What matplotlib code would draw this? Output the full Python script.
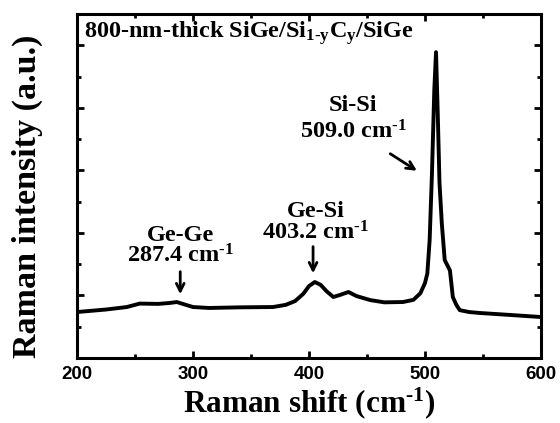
import matplotlib
matplotlib.use("Agg")
import matplotlib.pyplot as plt
from matplotlib.ticker import MultipleLocator

# Raman spectrum
shift = [200, 225, 243, 254, 270, 280, 286, 292, 300, 314, 340, 369, 380, 388,
         395, 400, 405, 410, 415, 421, 427, 434, 441, 453, 465, 481, 490, 496,
         500, 502, 504, 506, 508, 509.5, 511, 512.5, 514.5, 517, 519.5, 521.5,
         524, 527, 530, 538, 547, 576, 600]
intensity = [1.47, 1.55, 1.63, 1.74, 1.73, 1.76, 1.79, 1.72, 1.63, 1.60, 1.62,
             1.63, 1.70, 1.82, 2.05, 2.30, 2.43, 2.34, 2.14, 1.95, 2.02, 2.11,
             1.98, 1.85, 1.78, 1.79, 1.86, 2.07, 2.40, 2.70, 3.77, 5.90, 8.56,
             9.78, 7.80, 5.60, 4.30, 3.13, 2.95, 2.80, 1.95, 1.70, 1.53, 1.47,
             1.44, 1.37, 1.31]

# peak annotations
peak_names = ["Ge-Ge", "Ge-Si", "Si-Si"]
peak_values = ["287.4", "403.2", "509.0"]
label_x = [289, 406, 438]
name_y = [3.93, 4.70, 8.08]
value_y = [3.26, 3.99, 7.22]
arrow_tail = [(289, 2.85), (403.5, 3.65), (468, 6.58)]
arrow_head = [(289, 1.95), (403.5, 2.62), (495, 5.94)]

plt.rcParams["mathtext.fontset"] = "custom"
plt.rcParams["mathtext.rm"] = "Liberation Serif:bold"
plt.rcParams["mathtext.it"] = "Liberation Serif:bold"
plt.rcParams["mathtext.bf"] = "Liberation Serif:bold"

serif = dict(family="Liberation Serif", weight="bold")

fig = plt.figure(figsize=(5.6, 4.23), dpi=100)
ax = fig.add_axes([77 / 560, 1 - 358 / 423, 464 / 560, 344 / 423])

ax.plot(shift, intensity, color="black", lw=2.8, solid_joinstyle="round")

ax.set_xlim(200, 600)
ax.set_ylim(0, 11)
ax.xaxis.set_major_locator(MultipleLocator(100))
ax.xaxis.set_minor_locator(MultipleLocator(50))
ax.yaxis.set_major_locator(MultipleLocator(2))
ax.yaxis.set_minor_locator(MultipleLocator(1))
ax.set_yticklabels([])
ax.tick_params(which="both", direction="in", top=True, right=True, width=2)
ax.tick_params(which="major", length=5)
ax.tick_params(which="minor", length=3)
ax.tick_params(axis="x", pad=5.5, labelsize=13.5)
for lab in ax.get_xticklabels():
    lab.set_family("Liberation Sans")
    lab.set_weight("bold")
for sp in ax.spines.values():
    sp.set_linewidth(2.2)

fig.text(309 / 560, 1 - 412 / 423, r"Raman shift (cm$^{\text{-1}}$)",
         ha="center", va="baseline", fontsize=22.5, **serif)
fig.text(27 / 560, 1 - 196 / 423, "Raman intensity (a.u.)", rotation=90,
         ha="center", va="center", fontsize=24.5, **serif)

ax.text(206, 10.38, r"800-nm-thick SiGe/Si$_{\text{1-y}}$C$_{\text{y}}$/SiGe",
        ha="left", va="center", fontsize=17.5, **serif)

for i in range(len(peak_names)):
    ax.text(label_x[i], name_y[i], peak_names[i], ha="center", va="center",
            fontsize=17.5, **serif)
    ax.text(label_x[i], value_y[i], peak_values[i] + r" cm$^{\text{-1}}$",
            ha="center", va="center", fontsize=17.5, **serif)
    ax.annotate("", xy=arrow_head[i], xytext=arrow_tail[i],
                arrowprops=dict(arrowstyle="->", color="black", lw=2,
                                mutation_scale=14))

fig.savefig("out.png", dpi=100)
